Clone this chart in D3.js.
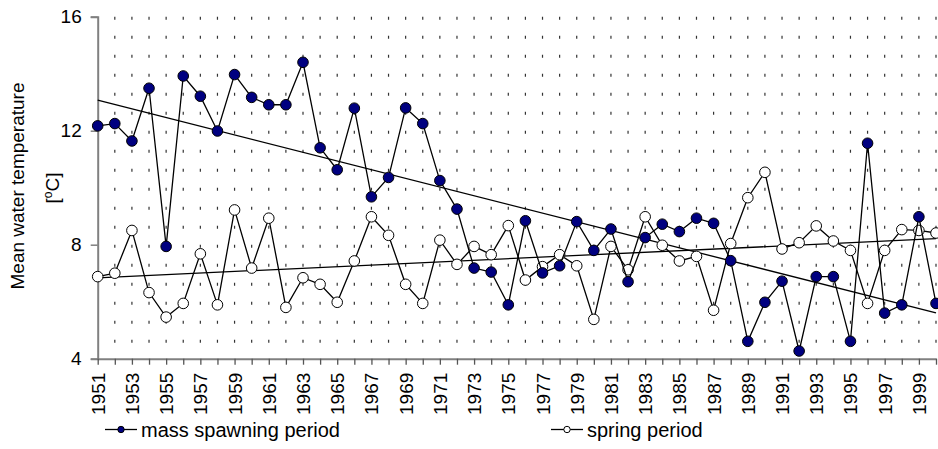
<!DOCTYPE html>
<html>
<head>
<meta charset="utf-8">
<script src="https://cdn.jsdelivr.net/npm/d3@7"></script>
<style>
  body { margin: 0; background: #fff; }
  text { font-family: "Liberation Sans", Arial, sans-serif; fill: #000; }
</style>
</head>
<body>
<div id="chart"></div>
<script>
// years 1951..2000
const years = d3.range(1951, 2001);
const massSpawning = [12.17, 12.25, 11.64, 13.49, 7.94, 13.92, 13.21, 11.99, 13.97, 13.17,
  12.91, 12.91, 14.40, 11.40, 10.63, 12.79, 9.68, 10.36, 12.80, 12.25,
  10.25, 9.25, 7.18, 7.04, 5.89, 8.84, 7.01, 7.26, 8.81, 7.80,
  8.55, 6.70, 8.25, 8.72, 8.46, 8.93, 8.75, 7.44, 4.61, 5.98,
  6.72, 4.27, 6.88, 6.88, 4.61, 11.56, 5.60, 5.89, 8.98, 5.94];
const springPeriod = [6.88, 7.00, 8.50, 6.32, 5.46, 5.94, 7.68, 5.89, 9.22, 7.18,
  8.93, 5.80, 6.84, 6.61, 5.98, 7.43, 8.98, 8.33, 6.61, 5.94,
  8.16, 7.31, 7.94, 7.65, 8.67, 6.76, 7.23, 7.65, 7.26, 5.38,
  7.94, 7.12, 8.98, 7.98, 7.43, 7.59, 5.70, 8.04, 9.65, 10.54,
  7.85, 8.07, 8.66, 8.13, 7.80, 5.94, 7.80, 8.53, 8.50, 8.41];
const yTicks = [4, 8, 12, 16];
const xLabels = years.filter(y => (y - 1951) % 2 === 0);

const width = 938, height = 449;
const plotLeft = 97.7, plotRight = 936, plotTop = 16.7, plotBottom = 358.7;

const x = d3.scaleLinear().domain([1951, 2000]).range([plotLeft, plotRight]);
const y = d3.scaleLinear().domain([4, 16]).range([plotBottom, plotTop]);

const svg = d3.select("#chart").append("svg")
  .attr("width", width).attr("height", height);

// dotted vertical gridlines
svg.append("g").selectAll("line")
  .data(years.slice(1))
  .enter().append("line")
  .attr("x1", d => x(d)).attr("x2", d => x(d))
  .attr("y1", y(16)).attr("y2", y(4) - 5)
  .attr("stroke", "#333")
  .attr("stroke-width", 1.2)
  .attr("stroke-dasharray", "3,16");

// y axis
const yAxis = svg.append("g")
  .attr("transform", "translate(" + plotLeft + ",0)")
  .call(d3.axisLeft(y).tickValues(yTicks).tickSize(7).tickPadding(9).tickFormat(d3.format("d")));
yAxis.select(".domain").attr("stroke", "#808080").attr("stroke-width", 2);
yAxis.selectAll(".tick line").attr("stroke", "#808080").attr("stroke-width", 1.5);
yAxis.selectAll("text").attr("font-size", 19).attr("font-family", "Liberation Sans, Arial, sans-serif").attr("fill", "#000");

// x axis
const xAxis = svg.append("g")
  .attr("transform", "translate(0," + plotBottom + ")")
  .call(d3.axisBottom(x).tickValues(years).tickSize(6).tickSizeOuter(0).tickFormat(""));
xAxis.select(".domain").attr("stroke", "#808080").attr("stroke-width", 2);
xAxis.selectAll(".tick line").attr("stroke", "#555").attr("stroke-width", 1.3);

svg.append("g").selectAll("text")
  .data(xLabels)
  .enter().append("text")
  .attr("transform", d => "translate(" + (x(d) + 7) + "," + (plotBottom + 14) + ") rotate(-90)")
  .attr("text-anchor", "end")
  .attr("font-size", 19)
  .text(d => d);

// trend lines (least squares)
function trend(vals) {
  const mx = d3.mean(years), my = d3.mean(vals);
  let num = 0, den = 0;
  years.forEach((yr, i) => { num += (yr - mx) * (vals[i] - my); den += (yr - mx) * (yr - mx); });
  const b = num / den, a = my - b * mx;
  return [[1951, a + b * 1951], [2000, a + b * 2000]];
}
const line = d3.line().x(d => x(d[0])).y(d => y(d[1]));
[massSpawning, springPeriod].forEach(vals => {
  svg.append("path").datum(trend(vals))
    .attr("d", line).attr("fill", "none")
    .attr("stroke", "#000").attr("stroke-width", 1.3);
});

// series
function drawSeries(vals, fill) {
  const pts = years.map((yr, i) => [yr, vals[i]]);
  svg.append("path").datum(pts)
    .attr("d", line).attr("fill", "none")
    .attr("stroke", "#000").attr("stroke-width", 1.3);
  svg.append("g").selectAll("circle")
    .data(pts)
    .enter().append("circle")
    .attr("cx", d => x(d[0])).attr("cy", d => y(d[1]))
    .attr("r", 5.3)
    .attr("fill", fill)
    .attr("stroke", "#000").attr("stroke-width", 1);
}
drawSeries(springPeriod, "#fff");
drawSeries(massSpawning, "#000080");

// y title
svg.append("text")
  .attr("transform", "translate(24,186) rotate(-90)")
  .attr("text-anchor", "middle")
  .attr("font-size", 19)
  .text("Mean water temperature");
svg.append("text")
  .attr("transform", "translate(59,188) rotate(-90)")
  .attr("text-anchor", "middle")
  .attr("font-size", 19)
  .html("[<tspan dy='-7' font-size='12'>o</tspan><tspan dy='7'>C]</tspan>");

// legend
const legend = [
  { name: "mass spawning period", fill: "#000080", x0: 105 },
  { name: "spring period", fill: "#fff", x0: 551 }
];
const lg = svg.append("g").selectAll("g")
  .data(legend)
  .enter().append("g")
  .attr("transform", d => "translate(" + d.x0 + ",429.5)");
lg.append("line").attr("x1", 0).attr("x2", 32)
  .attr("stroke", "#000").attr("stroke-width", 1.3);
lg.append("circle").attr("cx", 16).attr("r", 3.2)
  .attr("fill", d => d.fill).attr("stroke", "#000").attr("stroke-width", 1);
lg.append("text").attr("x", 36).attr("y", 7)
  .attr("font-size", 20)
  .text(d => d.name);
</script>
</body>
</html>
